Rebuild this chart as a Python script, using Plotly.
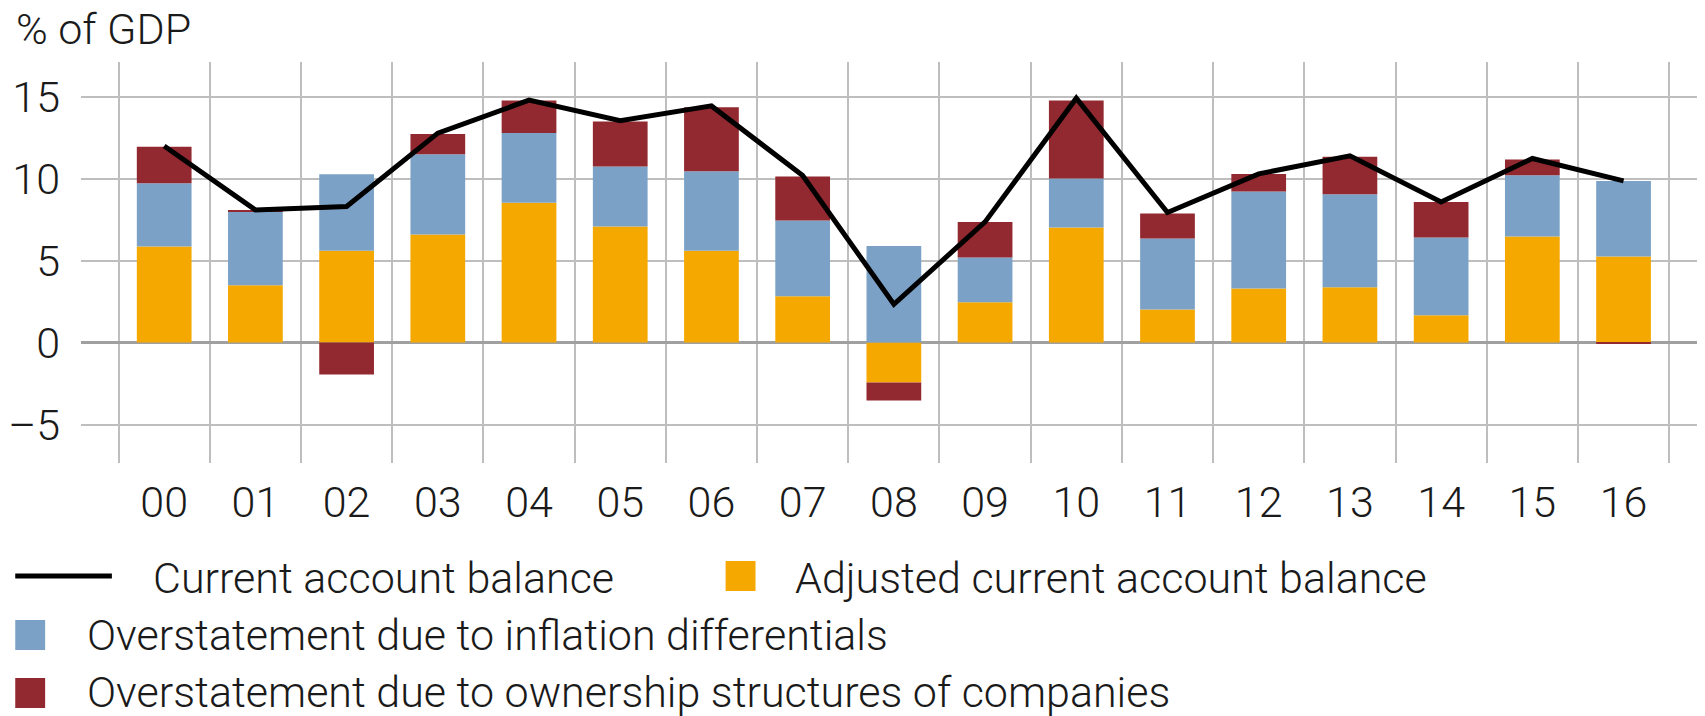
import plotly.graph_objects as go

years = ["00", "01", "02", "03", "04", "05", "06", "07", "08", "09",
         "10", "11", "12", "13", "14", "15", "16"]
adjusted_cab = [5.86, 3.50, 5.60, 6.60, 8.53, 7.09, 5.60, 2.83, -2.44, 2.46,
                7.02, 2.02, 3.30, 3.38, 1.67, 6.48, 5.25]
inflation_diff = [3.87, 4.48, 4.68, 4.90, 4.26, 3.66, 4.86, 4.62, 5.90, 2.73,
                  3.00, 4.33, 5.92, 5.68, 4.74, 3.74, 4.62]
ownership = [2.22, 0.12, -1.94, 1.24, 1.99, 2.75, 3.91, 2.69, -1.10, 2.18,
             4.76, 1.53, 1.08, 2.28, 2.18, 0.96, -0.05]
current_account = [12.0, 8.10, 8.31, 12.79, 14.80, 13.54, 14.45, 10.2, 2.34, 7.37,
                   14.92, 7.94, 10.30, 11.40, 8.59, 11.24, 9.87]
y_ticks = [-5, 0, 5, 10, 15]
y_ticktext = ["\u20135", "0", "5", "10", "15"]

legend_labels = ["Current account balance", "Adjusted current account balance",
                 "Overstatement due to inflation differentials",
                 "Overstatement due to ownership structures of companies"]

ORANGE = "#F5A800"
BLUE = "#7BA2C6"
RED = "#922830"
GRID = "#BEBEBE"
FONT = "Roboto"
FS = 43
TXT = "#1a1a1a"

xpos = list(range(len(years)))

fig = go.Figure()
fig.add_trace(go.Bar(x=xpos, y=adjusted_cab, name=legend_labels[1], marker_color=ORANGE,
                     marker_line_width=0, width=0.6))
fig.add_trace(go.Bar(x=xpos, y=inflation_diff, name=legend_labels[2], marker_color=BLUE,
                     marker_line_width=0, width=0.6))
fig.add_trace(go.Bar(x=xpos, y=ownership, name=legend_labels[3], marker_color=RED,
                     marker_line_width=0, width=0.6))
fig.add_trace(go.Scatter(x=xpos, y=current_account, name=legend_labels[0], mode="lines",
                         line=dict(color="black", width=5)))

OFF = 8  # browser body margin
W, H = 1705 - OFF, 716 - OFF
ml, mr, mt, mb = 75 - OFF, 0, 62 - OFF, H - (463 - OFF)
pw = W - ml - mr
ph = H - mt - mb

def px_x(px):
    return (px - OFF - ml) / pw

def px_y(py):
    return 1 - (py - OFF - mt) / ph

fnt = dict(family=FONT, size=FS, color=TXT, weight=300)

fig.update_layout(
    width=W, height=H,
    margin=dict(l=ml, r=mr, t=mt, b=mb, pad=0),
    barmode="relative",
    plot_bgcolor="white",
    paper_bgcolor="white",
    showlegend=False,
    font=fnt,
    xaxis=dict(
        range=[-0.912, 16.893],
        tickmode="array", tickvals=xpos, ticktext=years,
        showgrid=False, zeroline=False, showline=False, ticks="",
        ticklabelstandoff=10,
        tickfont=fnt,
        minor=dict(tickmode="linear", tick0=0.5, dtick=1, showgrid=True,
                   gridcolor=GRID, gridwidth=1.5, ticks=""),
    ),
    yaxis=dict(
        range=[-7.35, 17.13],
        tickmode="array", tickvals=y_ticks, ticktext=y_ticktext,
        showgrid=True, gridcolor=GRID, gridwidth=1.5,
        zeroline=True, zerolinecolor="#A0A0A0", zerolinewidth=3,
        showline=False, ticks="",
        ticklabelstandoff=20,
        tickfont=fnt,
    ),
)

fig.add_annotation(text="% of GDP", xref="paper", yref="paper",
                   x=px_x(8), y=px_y(29), xanchor="left", yanchor="middle",
                   showarrow=False, font=fnt)

# manual legend
shapes = []
shapes.append(dict(type="line", xref="paper", yref="paper",
                   x0=px_x(9), x1=px_x(106), y0=px_y(576), y1=px_y(576),
                   line=dict(color="black", width=5)))
sq = [(722, 561, ORANGE), (9, 620, BLUE), (9, 678, RED)]
for (sx, sy, c) in sq:
    shapes.append(dict(type="rect", xref="paper", yref="paper",
                       x0=px_x(sx), x1=px_x(sx + 30), y0=px_y(sy), y1=px_y(sy + 30),
                       fillcolor=c, line=dict(width=0)))
fig.update_layout(shapes=shapes)

leg_text = [(legend_labels[0], 145, 578), (legend_labels[1], 790, 578),
            (legend_labels[2], 79, 635), (legend_labels[3], 79, 692)]
for (t, tx, ty) in leg_text:
    fig.add_annotation(text=t, xref="paper", yref="paper", x=px_x(tx), y=px_y(ty),
                       xanchor="left", yanchor="middle", showarrow=False, font=fnt)

fig.write_html("out.html")
